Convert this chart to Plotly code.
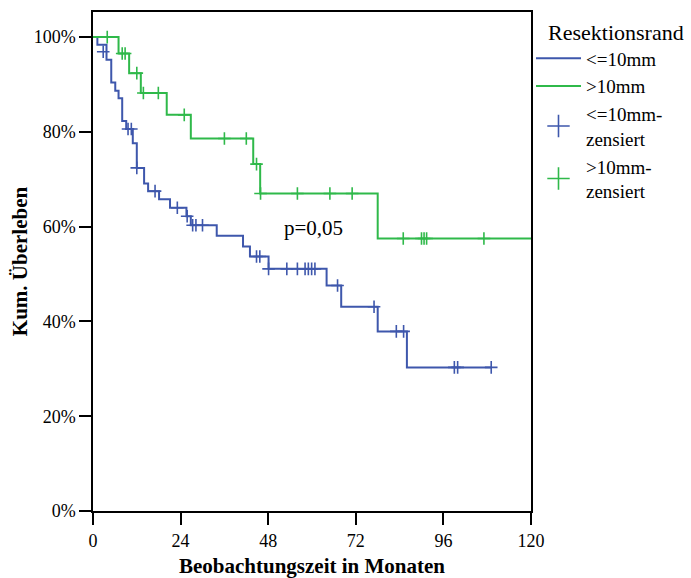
import plotly.graph_objects as go

# ---- data ----
# Kaplan-Meier step curve, group "<=10mm"
time_le10 = [0, 1.2, 3.7, 5.0, 6.1, 7.0, 8.0, 9.1, 10.9, 12.0, 14.0, 15.1, 18.1, 21.1,
             25.6, 26.8, 33.9, 41.1, 43.0, 48.1, 64.0, 68.0, 78.0, 86.0, 109.1]
surv_le10 = [100, 98.4, 95.2, 90.4, 88.7, 87.1, 82.3, 80.6, 77.6, 72.4, 69.1, 67.5, 65.8, 64.0,
             62.2, 60.3, 58.1, 55.8, 53.7, 51.1, 47.6, 43.1, 37.9, 30.3, 30.3]
# censored observations, group "<=10mm"
cens_time_le10 = [2.8, 9.6, 10.5, 12.0, 17.0, 23.1, 25.8, 27.3, 28.2, 30.0, 44.8, 45.7,
                  48.1, 53.1, 56.0, 58.1, 59.0, 59.9, 60.8, 67.0, 77.0, 83.1, 85.1,
                  99.0, 99.9, 109.1]
cens_surv_le10 = [96.9, 80.6, 80.6, 72.4, 67.5, 64.0, 62.2, 60.3, 60.3, 60.3, 53.7, 53.7,
                  51.1, 51.1, 51.1, 51.1, 51.1, 51.1, 51.1, 47.6, 43.1, 37.9, 37.9,
                  30.3, 30.3, 30.3]

# Kaplan-Meier step curve, group ">10mm"
time_gt10 = [0, 7.0, 9.9, 13.1, 20.2, 26.8, 43.9, 45.8, 78.0, 120]
surv_gt10 = [100, 96.55, 92.4, 88.2, 83.6, 78.6, 73.2, 67.0, 57.5, 57.5]
cens_time_gt10 = [3.9, 8.0, 8.8, 12.0, 13.8, 17.9, 25.0, 36.0, 42.0, 44.8, 45.9, 56.0,
                  64.9, 71.0, 85.0, 90.0, 90.7, 91.4, 107.1]
cens_surv_gt10 = [100, 96.55, 96.55, 92.4, 88.2, 88.2, 83.6, 78.6, 78.6, 73.2, 67.0, 67.0,
                  67.0, 67.0, 57.5, 57.5, 57.5, 57.5, 57.5]

x_ticks = [0, 24, 48, 72, 96, 120]
y_ticks = [0, 20, 40, 60, 80, 100]
y_ticklabels = ["0%", "20%", "40%", "60%", "80%", "100%"]

BLUE = "#3E57AC"
GREEN = "#2FB94A"
FONT = "Liberation Serif"

fig = go.Figure()

fig.add_trace(go.Scatter(x=time_le10, y=surv_le10, mode="lines", line_shape="hv",
                         line=dict(color=BLUE, width=2), name="&lt;=10mm"))
fig.add_trace(go.Scatter(x=time_gt10, y=surv_gt10, mode="lines", line_shape="hv",
                         line=dict(color=GREEN, width=2), name="&gt;10mm"))
fig.add_trace(go.Scatter(x=cens_time_le10, y=cens_surv_le10, mode="markers",
                         marker=dict(symbol="cross-thin", size=9, line=dict(color=BLUE, width=1.6)),
                         name="&lt;=10mm-<br>zensiert", showlegend=False))
fig.add_trace(go.Scatter(x=cens_time_gt10, y=cens_surv_gt10, mode="markers",
                         marker=dict(symbol="cross-thin", size=9, line=dict(color=GREEN, width=1.6)),
                         name="&gt;10mm-<br>zensiert", showlegend=False))
# legend entries for the censor symbols (larger marks, as in the reference legend)
fig.add_trace(go.Scatter(x=[None], y=[None], mode="markers",
                         marker=dict(symbol="cross-thin", size=22, line=dict(color=BLUE, width=1.6)),
                         name="&lt;=10mm-<br>zensiert"))
fig.add_trace(go.Scatter(x=[None], y=[None], mode="markers",
                         marker=dict(symbol="cross-thin", size=22, line=dict(color=GREEN, width=1.6)),
                         name="&gt;10mm-<br>zensiert"))

fig.add_annotation(x=60.3, y=59.7, text="p=0,05", showarrow=False,
                   font=dict(family=FONT, size=21, color="black"))

# legend title
fig.add_annotation(xref="paper", yref="paper", x=1.035, y=0.958, xanchor="left", yanchor="middle",
                   text="Resektionsrand", showarrow=False,
                   font=dict(family=FONT, size=22, color="black"))

axis_common = dict(showline=True, linecolor="black", linewidth=1.5, mirror=True,
                   ticks="outside", ticklen=12, tickwidth=1.5, tickcolor="black",
                   showgrid=False, zeroline=False, automargin=False,
                   tickfont=dict(family=FONT, size=18, color="black"))

fig.update_layout(
    width=691, height=578,
    margin=dict(l=93, r=160, t=12, b=67),
    paper_bgcolor="white", plot_bgcolor="white",
    font=dict(family=FONT, color="black"),
    xaxis=dict(range=[0, 120], tickvals=x_ticks, ticklabelstandoff=1, **axis_common,
               title=dict(text="<b>Beobachtungszeit in Monaten</b>",
                          font=dict(family=FONT, size=21), standoff=12)),
    yaxis=dict(range=[0, 105.3], tickvals=y_ticks, ticktext=y_ticklabels, **axis_common,
               title=dict(text="<b>Kum. Überleben</b>",
                          font=dict(family=FONT, size=21), standoff=0)),
    legend=dict(x=1.0, xanchor="left", y=0.945, yanchor="top",
                font=dict(family=FONT, size=19, color="black"),
                itemwidth=45, bgcolor="rgba(0,0,0,0)", tracegroupgap=0),
    showlegend=True,
)

fig.write_html("out.html")
